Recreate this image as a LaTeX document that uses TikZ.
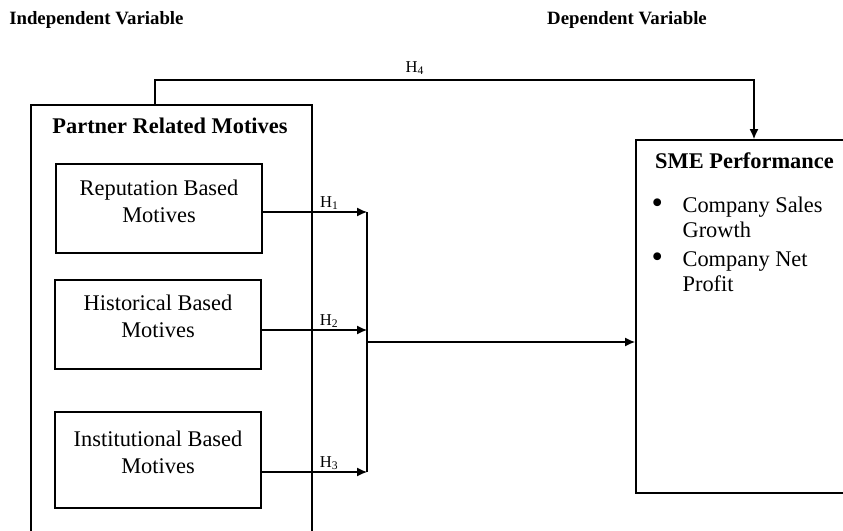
\documentclass[tikz,border=0pt]{standalone}
\usepackage{fontspec}
\setmainfont{Liberation Serif}
\usetikzlibrary{arrows.meta}
\newcommand{\bodysize}{\fontsize{11.2}{13.5}\selectfont}
\newcommand{\bigdot}{\makebox[16pt][l]{\kern0.5pt\raisebox{-0.6pt}{\scalebox{1.45}{\textbullet}}}}
\tikzset{
    framebox/.style={draw, line width=0.9pt, anchor=north west},
    motivebox/.style={draw, line width=0.9pt, minimum width=103pt, align=center, font=\bodysize},
    headtext/.style={font=\fontsize{9.4}{11}\selectfont\bfseries},
    hlabel/.style={font=\fontsize{8.3}{10}\selectfont, above, inner sep=1pt},
}
\begin{document}
\begin{tikzpicture}[>={Latex[length=5pt,width=4.5pt]}, x=0.5pt, y=-0.5pt, line width=0.6pt]
\useasboundingbox (0,0) rectangle (843,531);
\clip (0,0) rectangle (843,531);
\node[headtext, anchor=west] (indep) at (2,20) {Independent Variable};
\node[headtext] (dep) at (627,20) {Dependent Variable};
% outer boxes
\node[framebox, minimum width=140.5pt, minimum height=221pt] (partner) at (30,104) {};
\node[font=\bodysize\bfseries] (ptitle) at (170,126) {Partner Related Motives};
\node[framebox, minimum width=112.5pt, minimum height=176.5pt] (sme) at (635,139) {};
\node[font=\bodysize\bfseries] (smetitle) at (744.5,161) {SME Performance};
\node[anchor=north west, inner sep=0pt, font=\fontsize{11.2}{12.5}\selectfont] (smelist) at (650,194.5)
    {\begin{tabular}{@{}l@{}l@{}}
    \bigdot & Company Sales\\
     & Growth\\[2pt]
    \bigdot & Company Net\\
     & Profit
    \end{tabular}};
% motives and hypotheses
\coordinate (jx) at (367,342);
\foreach \name/\x/\y/\hh/\dd/\dy/\txt/\k in {rep/159/208.5/44.5/7pt/-1.75pt/Reputation Based/1,
    hist/158/324.5/44.5/8pt/-2.75pt/Historical Based/2,
    inst/158/460/48/8pt/-6pt/Institutional Based/3}
{
    \node[motivebox, minimum height=\hh pt, text depth=\dd] (\name) at (\x,\y) {\txt\\Motives};
    \coordinate (\name-out) at ([yshift=\dy]\name.east);
    \draw[->] (\name-out) -- (\name-out -| jx) node[hlabel, pos=.64] {H\textsubscript{\k}};
}
\draw (rep-out -| jx) -- (inst-out -| jx);
\draw[->] (jx) -- (jx -| sme.west);
% H4
\coordinate (h4a) at (155,104);
\coordinate (h4b) at (754,139);
\draw[->] (h4a) -- ++(0,-24) -| (h4b);
\node[font=\fontsize{8.3}{10}\selectfont] (h4) at (415,68) {H\textsubscript{4}};
\end{tikzpicture}
\end{document}
